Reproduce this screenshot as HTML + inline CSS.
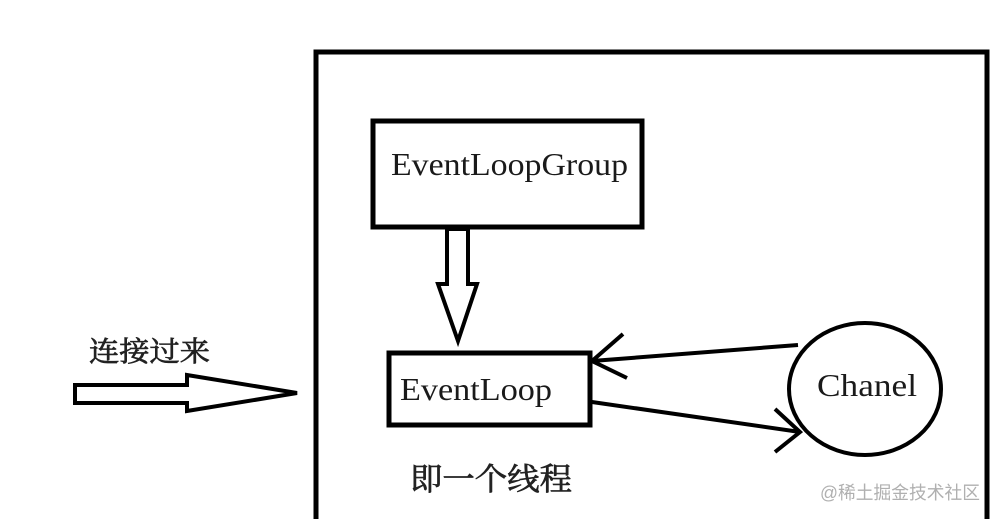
<!DOCTYPE html>
<html>
<head>
<meta charset="utf-8">
<style>
  html, body { margin: 0; padding: 0; background: #fff; }
  svg { display: block; }
</style>
</head>
<body>
<svg width="997" height="519" viewBox="0 0 997 519" xmlns="http://www.w3.org/2000/svg">
  <rect width="997" height="519" fill="#ffffff"/>
  <!-- outer box -->
  <polyline points="316,530 316,52 987,52 987,530" fill="none" stroke="#000" stroke-width="5"/>

  <!-- EventLoopGroup box -->
  <rect x="373" y="121" width="269" height="106" fill="#fff" stroke="#000" stroke-width="5"/>
  <text x="391" y="175" font-family="'Liberation Serif', serif" font-size="32" fill="#1a1a1a" textLength="237" lengthAdjust="spacingAndGlyphs">EventLoopGroup</text>

  <!-- down hollow arrow -->
  <polygon points="447,229 468,229 468,284 477,284 458,341 438,284 447,284" fill="#fff" stroke="#000" stroke-width="4" stroke-linejoin="miter"/>

  <!-- EventLoop box -->
  <rect x="389" y="353" width="201" height="72" fill="#fff" stroke="#000" stroke-width="5"/>
  <text x="400" y="400" font-family="'Liberation Serif', serif" font-size="32" fill="#1a1a1a" textLength="152" lengthAdjust="spacingAndGlyphs">EventLoop</text>

  <!-- Chanel circle -->
  <ellipse cx="865" cy="389" rx="76" ry="66" fill="#fff" stroke="#000" stroke-width="4"/>
  <text x="817" y="396" font-family="'Liberation Serif', serif" font-size="32" fill="#1a1a1a" textLength="100" lengthAdjust="spacingAndGlyphs">Chanel</text>

  <!-- arrow from Chanel to EventLoop -->
  <line x1="798" y1="345" x2="592" y2="361" stroke="#000" stroke-width="4"/>
  <polyline points="623,334 592,361 627,378" fill="none" stroke="#000" stroke-width="4"/>

  <!-- arrow from EventLoop to Chanel -->
  <line x1="592" y1="402" x2="800" y2="432" stroke="#000" stroke-width="4"/>
  <polyline points="775,409 800,432 775,452" fill="none" stroke="#000" stroke-width="4"/>

  <!-- left hollow arrow -->
  <polygon points="75,385 187,385 187,375 297,393 187,411 187,403 75,403" fill="#fff" stroke="#000" stroke-width="4" stroke-linejoin="miter"/>

  <!-- Chinese labels -->
  <text x="89" y="361" font-family="'Liberation Serif', 'Noto Serif CJK SC', serif" font-size="28" fill="#222" stroke="#222" stroke-width="0.7" textLength="121" lengthAdjust="spacingAndGlyphs">连接过来</text>
  <text x="410" y="490" font-family="'Liberation Serif', 'Noto Serif CJK SC', serif" font-size="31" fill="#222" stroke="#222" stroke-width="0.7" textLength="162" lengthAdjust="spacingAndGlyphs">即一个线程</text>

  <!-- watermark -->
  <text x="820" y="499" font-family="'Liberation Sans', 'Noto Sans CJK SC', sans-serif" font-size="18" fill="#b0b0b0" textLength="160" lengthAdjust="spacingAndGlyphs">@稀土掘金技术社区</text>
</svg>
</body>
</html>
